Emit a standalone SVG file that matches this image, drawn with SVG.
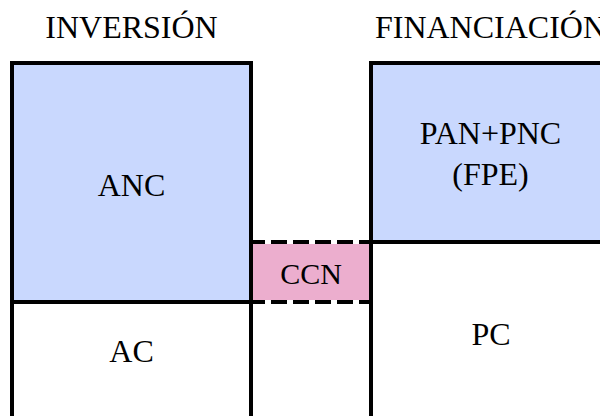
<svg xmlns="http://www.w3.org/2000/svg" width="600" height="416" viewBox="0 0 600 416">
  <style>
    .lbl { font-family: "Liberation Serif", "Times New Roman", serif; font-size: 32px; fill: #000; text-anchor: middle; }
    .box { stroke: #000; stroke-width: 4; }
    .blue { fill: #c9d8fe; }
    .white { fill: #ffffff; }
    .pink { fill: #ecaece; }
    .dash { stroke: #000; stroke-width: 4; stroke-dasharray: 16 6; fill: none; }
  </style>
  <rect width="600" height="416" fill="#ffffff"/>

  <g id="titles">
    <text class="lbl" x="131.5" y="38">INVERSIÓN</text>
    <text class="lbl" x="490.5" y="38">FINANCIACIÓN</text>
  </g>

  <!-- asset side -->
  <g id="anc">
    <rect class="box blue" x="12" y="63" width="239" height="239"/>
    <text class="lbl" x="131.5" y="196">ANC</text>
  </g>
  <g id="ac">
    <rect class="box white" x="12" y="302" width="239" height="130"/>
    <text class="lbl" x="131.5" y="362">AC</text>
  </g>

  <!-- liability side -->
  <g id="fpe">
    <rect class="box blue" x="371" y="63" width="250" height="179"/>
    <text class="lbl" x="490.5" y="144">PAN+PNC</text>
    <text class="lbl" x="490.5" y="185">(FPE)</text>
  </g>
  <g id="pc">
    <rect class="box white" x="371" y="242" width="250" height="190"/>
    <text class="lbl" x="491" y="345">PC</text>
  </g>

  <!-- working capital band between the columns -->
  <g id="ccn">
    <rect class="pink" x="253" y="244" width="116" height="56"/>
    <text class="lbl" x="311" y="284" style="font-size:30px">CCN</text>
  </g>

  <g id="connectors">
    <line class="box" x1="251" y1="63" x2="251" y2="420"/>
    <line class="box" x1="371" y1="63" x2="371" y2="420"/>
    <line class="dash" x1="249" y1="242" x2="373" y2="242"/>
    <line class="dash" x1="249" y1="302" x2="373" y2="302"/>
  </g>
</svg>
